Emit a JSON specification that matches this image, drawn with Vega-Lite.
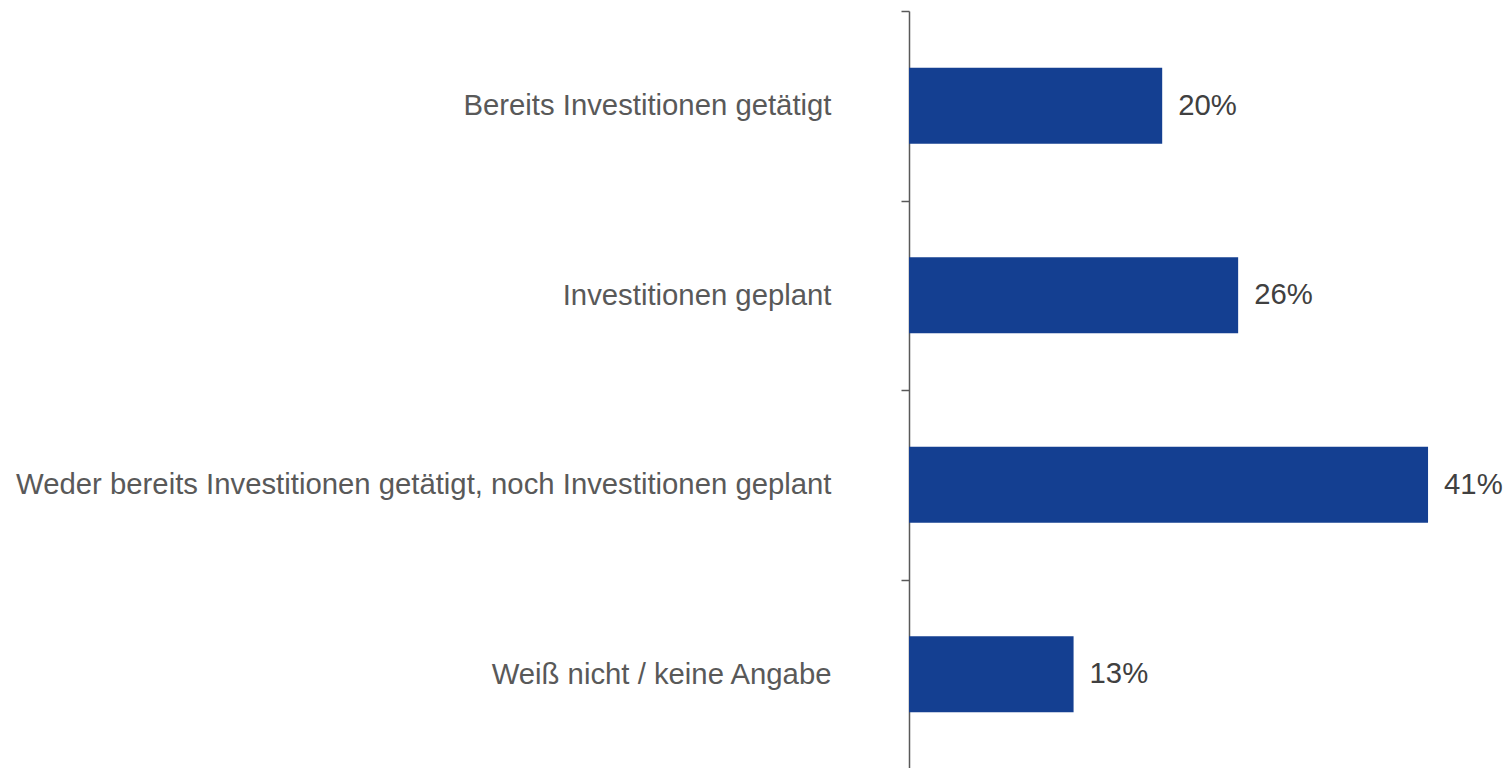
{
  "$schema": "https://vega.github.io/schema/vega-lite/v6.json",
  "autosize": {"type": "none"},
  "padding": {"left": 909, "top": 11, "right": 0, "bottom": 0},
  "width": 595,
  "height": 758,
  "background": "white",
  "config": {"view": {"stroke": null}, "font": "Liberation Sans"},
  "data": {"values": [
    {"kategorie": "Bereits Investitionen getätigt", "anteil": 0.20},
    {"kategorie": "Investitionen geplant", "anteil": 0.26},
    {"kategorie": "Weder bereits Investitionen getätigt, noch Investitionen geplant", "anteil": 0.41},
    {"kategorie": "Weiß nicht / keine Angabe", "anteil": 0.13}
  ]},
  "encoding": {
    "y": {
      "field": "kategorie", "type": "nominal", "sort": null,
      "scale": {"paddingInner": 0, "paddingOuter": 0},
      "axis": {
        "title": null, "domainColor": "#595959", "domainWidth": 1.5,
        "tickColor": "#595959", "tickSize": 8, "tickWidth": 1.5, "tickBand": "extent",
        "labelFont": "Liberation Sans", "labelFontSize": 29.3, "labelColor": "#595959",
        "labelPadding": 70, "labelLimit": 0
      }
    },
    "x": {
      "field": "anteil", "type": "quantitative",
      "scale": {"domain": [0, 0.47], "nice": false, "zero": true},
      "axis": null
    }
  },
  "layer": [
    {"mark": {"type": "bar", "color": "#143F91", "height": {"band": 0.4}}},
    {
      "mark": {"type": "text", "align": "left", "baseline": "middle", "dx": 16, "fontSize": 29.3, "font": "Liberation Sans", "color": "#404040"},
      "encoding": {"text": {"field": "anteil", "type": "quantitative", "format": ".0%"}}
    }
  ]
}
